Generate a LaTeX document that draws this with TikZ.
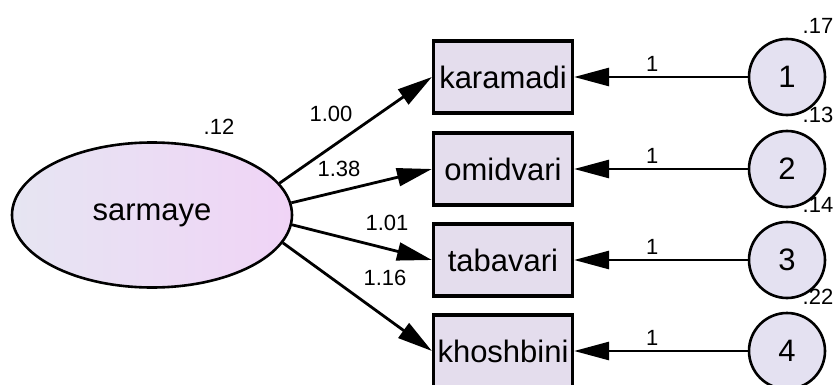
\documentclass[tikz,border=0pt]{standalone}
\usepackage{fontspec}
\setmainfont{Liberation Sans}
\usetikzlibrary{shapes.geometric,arrows.meta}
\definecolor{latleft}{RGB}{230,229,242}
\definecolor{latright}{RGB}{240,212,246}
\definecolor{obsfill}{RGB}{228,221,237}
\definecolor{errfill}{RGB}{228,225,241}
\begin{document}
\begin{tikzpicture}[x=1pt,y=-1pt]
      \useasboundingbox (0,0) rectangle (835,385);
      \begin{scope}[every node/.style={ellipse,draw,line width=2.6pt,minimum width=280pt,minimum height=145pt,inner sep=0pt,left color=latleft,right color=latright,font=\fontsize{31}{31}\selectfont}]
      \node (s) at (152,215) {sarmaye};
      \end{scope}
      \begin{scope}[every node/.style={rectangle,draw,line width=3.2pt,fill=obsfill,minimum width=139pt,minimum height=72pt,inner sep=2pt,font=\fontsize{31}{31}\selectfont}]
      \node (k) at (503,77) {karamadi};
      \node (o) at (503,169) {omidvari};
      \node (t) at (503,260) {tabavari};
      \node (h) at (503,351) {khoshbini};
      \end{scope}
      \begin{scope}[every node/.style={circle,draw,line width=2.6pt,fill=errfill,minimum size=76pt,inner sep=0pt,font=\fontsize{31}{31}\selectfont}]
      \node (e1) at (787,77) {1};
      \node (e2) at (787,169) {2};
      \node (e3) at (787,260) {3};
      \node (e4) at (787,351) {4};
      \end{scope}
      \begin{scope}[every node/.style={font=\fontsize{22}{22}\selectfont,inner sep=4pt},
                    every edge/.style={draw=black,line width=2.8pt,-{Triangle[length=35pt,width=18pt]}}]
      \path (s.14) edge (k.west);
      \path (s.5) edge (o.west);
      \path (s.-4) edge (t.west);
      \path (s.-12.5) edge (h.west);
      \path (e1) edge node[above,pos=0.55] {1} (k);
      \path (e2) edge node[above,pos=0.55] {1} (o);
      \path (e3) edge node[above,pos=0.55] {1} (t);
      \path (e4) edge node[above,pos=0.55] {1} (h);
      \node at (219,127) {.12};
      \node at (331,114) {1.00};
      \node at (339,169) {1.38};
      \node at (387,223) {1.01};
      \node at (385,278) {1.16};
      \node at (818,26) {.17};
      \node at (818,115) {.13};
      \node at (818,205) {.14};
      \node at (818,297) {.22};
      \end{scope}
      \end{tikzpicture}
\end{document}
